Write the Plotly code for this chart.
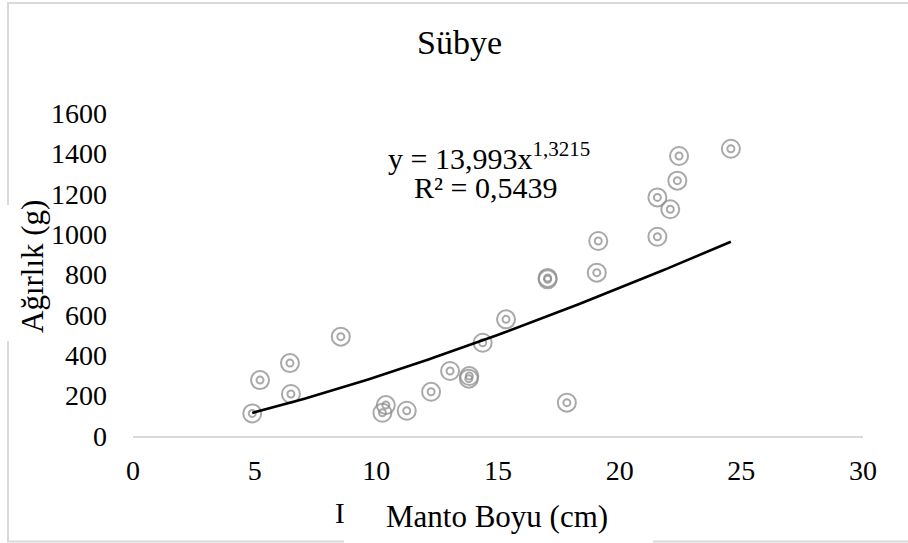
import plotly.graph_objects as go

# ---- data ----
manto_boyu = [4.90, 5.22, 6.45, 6.49, 8.54, 10.25, 10.39, 11.25, 12.25, 13.03,
              13.80, 13.82, 14.37, 15.33, 17.04, 17.04, 17.83, 19.06, 19.12,
              21.55, 21.55, 22.08, 22.37, 22.44, 24.57]
agirlik = [112, 277, 361, 208, 492, 115, 153, 125, 219, 322,
           284, 297, 462, 578, 776, 783, 165, 809, 966,
           987, 1182, 1123, 1265, 1387, 1423]

# power trendline shown on the chart: y = 13,993 x^1,3215
trend_a = 13.993
trend_b = 1.3215
x_ticks = [0, 5, 10, 15, 20, 25, 30]
y_ticks = [0, 200, 400, 600, 800, 1000, 1200, 1400, 1600]

title_text = "Sübye"
x_title = "Manto Boyu (cm)"
y_title = "Ağırlık (g)"
eq_text = "y = 13,993x<sup>1,3215</sup>"
r2_text = "R² = 0,5439"

# ---- layout geometry ----
W, H = 908, 543
L, R, T, B = 133, 45, 113, 107
PW, PH = W - L - R, H - T - B


def px(xp):
    return (xp - L) / PW


def py(yp):
    return (H - B - yp) / PH


FONT = "Liberation Serif"

n = 120
xmin, xmax = min(manto_boyu), max(manto_boyu)
trend_x = [xmin + (xmax - xmin) * i / (n - 1) for i in range(n)]
trend_y = [trend_a * v ** trend_b for v in trend_x]

fig = go.Figure()
ring_color = "rgba(140,140,140,0.75)"
fig.add_trace(go.Scatter(x=manto_boyu, y=agirlik, mode="markers",
                         marker=dict(symbol="circle-open", size=18, color=ring_color,
                                     line=dict(width=2)),
                         hoverinfo="x+y", showlegend=False))
fig.add_trace(go.Scatter(x=manto_boyu, y=agirlik, mode="markers",
                         marker=dict(symbol="circle-open", size=7, color=ring_color,
                                     line=dict(width=2)),
                         hoverinfo="skip", showlegend=False))
fig.add_trace(go.Scatter(x=trend_x, y=trend_y, mode="lines",
                         line=dict(color="black", width=2.6),
                         hoverinfo="skip", showlegend=False))

shapes = [
    # outer chart border
    dict(type="rect", xref="paper", yref="paper",
         x0=px(8), x1=px(912), y0=py(541.5), y1=py(3),
         line=dict(color="#d9d9d9", width=2), fillcolor="rgba(0,0,0,0)", layer="below"),
    # white boxes behind axis titles
    dict(type="rect", xref="paper", yref="paper",
         x0=px(0), x1=px(47), y0=py(341), y1=py(205),
         line=dict(width=0), fillcolor="white", layer="below"),
    dict(type="rect", xref="paper", yref="paper",
         x0=px(344), x1=px(653), y0=py(545), y1=py(492),
         line=dict(width=0), fillcolor="white", layer="below"),
]

annotations = [
    dict(text=title_text, x=px(459), y=py(43), font=dict(size=34)),
    dict(text=eq_text, x=px(489), y=py(156), font=dict(size=30)),
    dict(text=r2_text, x=px(485), y=py(187), font=dict(size=30)),
    dict(text=y_title, x=px(32), y=py(267), textangle=-90, font=dict(size=31)),
    dict(text=x_title, x=px(497), y=py(516), font=dict(size=31)),
    dict(text="I", x=px(340), y=py(513), font=dict(size=29)),
]
for a in annotations:
    a.update(xref="paper", yref="paper", showarrow=False,
             xanchor="center", yanchor="middle")
    a["font"].update(family=FONT, color="#000000")

fig.update_layout(
    width=W, height=H,
    margin=dict(l=L, r=R, t=T, b=B, pad=0),
    paper_bgcolor="white", plot_bgcolor="white",
    font=dict(family=FONT, color="#000000", size=28),
    shapes=shapes, annotations=annotations,
    xaxis=dict(range=[0, 30], tickvals=x_ticks, ticktext=[str(v) for v in x_ticks],
               showgrid=False, zeroline=False, showline=True, linecolor="#d9d9d9",
               linewidth=2, ticks="", ticklabelstandoff=8,
               tickfont=dict(family=FONT, size=28, color="#000000")),
    yaxis=dict(range=[0, 1600], tickvals=y_ticks, ticktext=[str(v) for v in y_ticks],
               showgrid=False, zeroline=False, showline=False, ticks="",
               ticklabelstandoff=25,
               tickfont=dict(family=FONT, size=28, color="#000000")),
)

fig.write_html("out.html", config={"displayModeBar": False},
               post_script="document.body.style.margin='0';document.body.style.overflow='hidden';")
